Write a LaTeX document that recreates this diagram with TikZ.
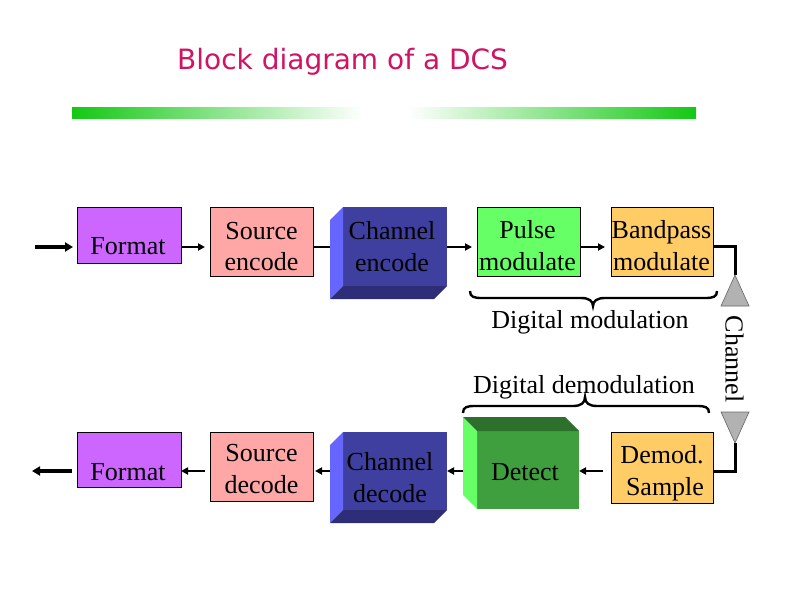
\documentclass[tikz,border=0pt]{standalone}
\usepackage{fontspec}
\setmainfont{Liberation Serif}
\newfontfamily\titlefont{DejaVu Sans}
\usetikzlibrary{arrows.meta,calc}
\definecolor{fmtc}{RGB}{204,102,255}
\definecolor{srcc}{RGB}{255,166,166}
\definecolor{chf}{RGB}{63,63,159}
\definecolor{chlt}{RGB}{102,102,255}
\definecolor{chdk}{RGB}{46,46,120}
\definecolor{pulc}{RGB}{102,255,102}
\definecolor{bpc}{RGB}{255,204,102}
\definecolor{detf}{RGB}{63,159,63}
\definecolor{detl}{RGB}{102,255,102}
\definecolor{dett}{RGB}{44,112,44}
\definecolor{titc}{RGB}{208,20,100}
\definecolor{barg}{RGB}{20,200,20}
\definecolor{antc}{RGB}{178,178,178}
\tikzset{
  blk/.style={draw=black,line width=0.8pt,inner sep=0pt,outer sep=0pt},
  face/.style={inner sep=0pt,outer sep=0pt},
  lbl/.style={font=\fontsize{26}{32}\selectfont,align=center,inner sep=0pt},
  thinarr/.style={line width=2pt,-{Triangle[length=7pt,width=7pt]}},
  thickarr/.style={line width=3.2pt,-{Triangle[length=8pt,width=9pt]}},
  thickln/.style={line width=3pt},
  thinln/.style={line width=2pt},
  brc/.style={line width=2.4pt},
  ant/.style={fill=antc,draw=black!60,line width=0.6pt}
}
\begin{document}
\begin{tikzpicture}[x=1pt,y=-1pt]
\useasboundingbox[fill=white] (0,0) rectangle (792,612);

% title and bar
\node[font=\titlefont\fontsize{28}{34}\selectfont,text=titc,anchor=base west,inner sep=0pt] (title) at (177,70) {Block diagram of a DCS};
\shade[left color=barg,right color=white] (72,108) rectangle (362,119);
\shade[left color=white,right color=barg] (408,108) rectangle (696,119);

% row coordinates
\coordinate (r1) at (0,247);
\coordinate (r2) at (0,471);
\coordinate (in) at (35,247);
\coordinate (out) at (32,471);
\coordinate (a1) at (735,275);
\coordinate (a2) at (735,443);

% top row
\node[blk,fill=fmtc,minimum width=104pt,minimum height=56pt] (fmt1) at (129,235) {};
\node[lbl] (fmt1t) at (128,248.6) {\strut Format};
\node[blk,fill=srcc,minimum width=103pt,minimum height=69pt] (se) at (261.5,241.5) {};
\node[lbl] (set) at (261.5,248.6) {\strut Source\\\strut encode};
\node[face,fill=chf,minimum width=104pt,minimum height=79pt] (ce) at (395,246.5) {};
\fill[chlt] (ce.north west) -- ++(-13,13) -- ($(ce.south west)+(-13,13)$) -- (ce.south west) -- cycle;
\fill[chdk] (ce.south west) -- ++(-13,13) -- ($(ce.south east)+(-13,13)$) -- (ce.south east) -- cycle;
\node[lbl] (cet) at (392,249.5) {\strut Channel\\\strut encode};
\node[blk,fill=pulc,minimum width=103pt,minimum height=69pt] (pm) at (528.5,241.5) {};
\node[lbl] (pmt) at (527.5,248) {\strut Pulse\\\strut modulate};
\node[blk,fill=bpc,minimum width=102pt,minimum height=69pt] (bm) at (662,241.5) {};
\node[lbl] (bmt) at (661.5,248) {\strut Bandpass\\\strut modulate};

% bottom row
\node[blk,fill=fmtc,minimum width=104pt,minimum height=55pt] (fmt2) at (129,459.5) {};
\node[lbl] (fmt2t) at (128,473.6) {\strut Format};
\node[blk,fill=srcc,minimum width=103pt,minimum height=69pt] (sd) at (261.5,466.5) {};
\node[lbl] (sdt) at (261.5,471.3) {\strut Source\\\strut decode};
\node[face,fill=chf,minimum width=104pt,minimum height=78pt] (cd) at (395,471) {};
\fill[chlt] (cd.north west) -- ++(-13,13) -- ($(cd.south west)+(-13,13)$) -- (cd.south west) -- cycle;
\fill[chdk] (cd.south west) -- ++(-13,13) -- ($(cd.south east)+(-13,13)$) -- (cd.south east) -- cycle;
\node[lbl] (cdt) at (390,479.6) {\strut Channel\\\strut decode};
\node[face,fill=detf,minimum width=102pt,minimum height=78pt] (det) at (528,470) {};
\fill[detl] (det.north west) -- ++(-14,-14) -- ($(det.south west)+(-14,-14)$) -- (det.south west) -- cycle;
\fill[dett] (det.north west) -- ++(-14,-14) -- ($(det.north east)+(-14,-14)$) -- (det.north east) -- cycle;
\node[lbl] (dett) at (525,473.6) {\strut Detect};
\node[blk,fill=bpc,minimum width=102pt,minimum height=71pt] (dm) at (662,467.5) {};
\node[lbl] (dmt) at (662,472.6) {\strut Demod.\\\strut\hspace*{6pt}Sample};

% braces and their labels
\draw[brc] (470,291) .. controls (470,297) and (474,298) .. (482,298) -- (581,298)
  .. controls (589,298) and (593,301) .. (593,306)
  .. controls (593,301) and (597,298) .. (605,298) -- (705,298)
  .. controls (713,298) and (717,297) .. (717,291);
\node[lbl] (dmod) at (590,321.6) {\strut Digital modulation};
\draw[brc] (463,413) .. controls (463,407) and (467,406) .. (475,406) -- (573,406)
  .. controls (581,406) and (585,403) .. (585,397)
  .. controls (585,403) and (589,406) .. (597,406) -- (697,406)
  .. controls (705,406) and (709,407) .. (709,413);
\node[lbl] (ddemod) at (584,386.6) {\strut Digital demodulation};
\node[lbl,rotate=-90] (chan) at (732,359) {\strut Channel};

% connectors top
\draw[thickarr,shorten >=4pt] (in) -- (in -| fmt1.west);
\draw[thinarr,shorten >=5pt] (fmt1.east |- r1) -- (se.west |- r1);
\draw[thinln] (se.east |- r1) -- ($(ce.west |- r1)+(-13,0)$);
\draw[thinarr,shorten >=5pt] (ce.east |- r1) -- (pm.west |- r1);
\draw[thinarr,shorten >=6pt] (pm.east |- r1) -- (bm.west |- r1);
\draw[thickln] (bm.east |- r1) -| (a1);
\draw[ant] (a1) -- ++(14,31) -- ++(-28,0) -- cycle;

% connectors bottom
\draw[thickln] (a2) |- (dm.east |- r2);
\draw[ant] (a2) -- ++(14,-31) -- ++(-28,0) -- cycle;
\draw[thinarr,shorten <=8pt] (dm.west |- r2) -- (det.east |- r2);
\draw[thinarr] ($(det.west |- r2)+(-14,0)$) -- (cd.east |- r2);
\draw[thinarr,shorten >=2pt] ($(cd.west |- r2)+(-13,0)$) -- (sd.east |- r2);
\draw[thinarr,shorten <=5pt] (sd.west |- r2) -- (fmt2.east |- r2);
\draw[thickarr,shorten <=5pt] (fmt2.west |- r2) -- (out);
\end{tikzpicture}
\end{document}
